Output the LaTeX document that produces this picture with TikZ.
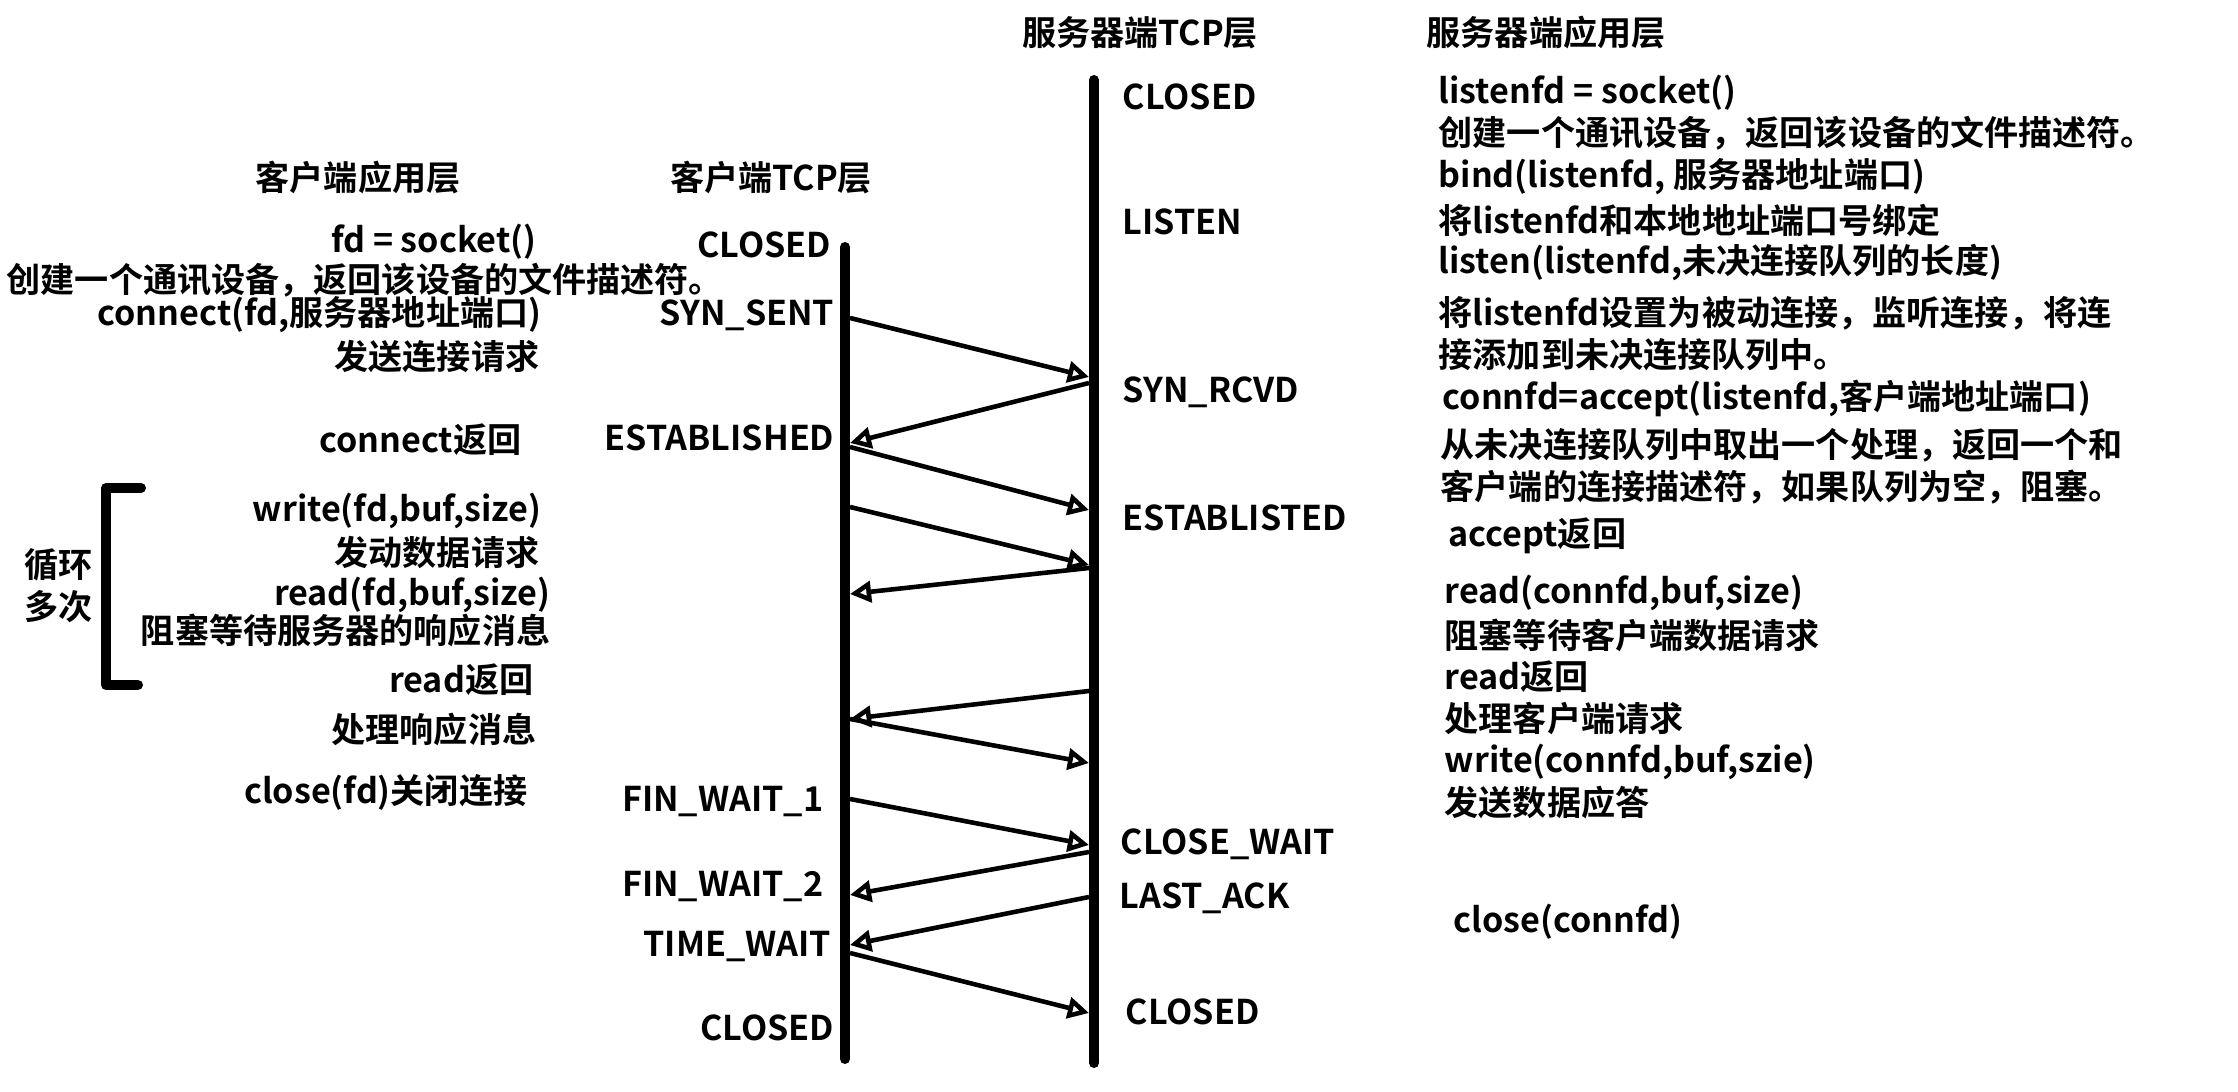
\documentclass[tikz,border=0pt]{standalone}
\usepackage{fontspec}
\setmainfont{Noto Sans CJK SC}[BoldFont={Noto Sans CJK SC Bold}]
\usepackage{tikz}
\usetikzlibrary{arrows.meta}

\begin{document}
\begin{tikzpicture}[
    x=0.01cm, y=-0.01cm,
    txt/.style={font=\bfseries\fontsize{9.7}{11}\selectfont, inner sep=0pt},
    lefttxt/.style={txt, anchor=east},
    righttxt/.style={txt, anchor=west},
    lifeline/.style={line width=0.1cm, line cap=round},
    bracket/.style={line width=0.1cm, line cap=round, line join=round},
    msg/.style={-{Triangle[open, length=6pt, width=6pt]}, line width=1.3pt}
]
    \useasboundingbox (0,0) rectangle (2238,1092);

    % column headers
    \node[txt] (capp) at (358,178) {客户端应用层};
    \node[txt] (ctcp) at (771,178) {客户端TCP层};
    \node[txt] (stcp) at (1140,33) {服务器端TCP层};
    \node[righttxt] (sapp) at (1426,33) {服务器端应用层};

    % the two TCP lifelines
    \coordinate (ctop) at (845,247);
    \coordinate (cbot) at (845,1059);
    \coordinate (stop) at (1094,80);
    \coordinate (sbot) at (1094,1063);
    \draw[lifeline] (ctop) -- (cbot);
    \draw[lifeline] (stop) -- (sbot);

    % client TCP states
    \node[lefttxt] (cclosed) at (832,245) {CLOSED};
    \node[lefttxt] (csynsent) at (835,315) {SYN\_SENT};
    \node[lefttxt] (cestab) at (835,438) {ESTABLISHED};
    \node[lefttxt] (cfin1) at (824,802) {FIN\_WAIT\_1};
    \node[lefttxt] (cfin2) at (824,887) {FIN\_WAIT\_2};
    \node[lefttxt] (ctimew) at (832,947) {TIME\_WAIT};
    \node[lefttxt] (cclosed2) at (835,1028) {CLOSED};

    % server TCP states
    \node[righttxt] (sclosed) at (1122,97) {CLOSED};
    \node[righttxt] (slisten) at (1122,222) {LISTEN};
    \node[righttxt] (ssynrcvd) at (1122,392) {SYN\_RCVD};
    \node[righttxt] (sestab) at (1122,518) {ESTABLISTED};
    \node[righttxt] (sclosew) at (1120,844) {CLOSE\_WAIT};
    \node[righttxt] (slastack) at (1119,898) {LAST\_ACK};
    \node[righttxt] (sclosed2) at (1125,1012) {CLOSED};

    % client application calls
    \node[lefttxt] (csocket) at (537,242) {fd = socket()};
    \node[righttxt] (ccreate) at (6,280) {创建一个通讯设备，返回该设备的文件描述符。};
    \node[lefttxt] (cconnect) at (542,315) {connect(fd,服务器地址端口)};
    \node[lefttxt] (csend) at (540,357) {发送连接请求};
    \node[lefttxt] (cconret) at (522,440) {connect返回};
    \node[lefttxt] (cwrite) at (542,511) {write(fd,buf,size)};
    \node[lefttxt] (creq) at (540,552) {发动数据请求};
    \node[lefttxt] (cread) at (551,595) {read(fd,buf,size)};
    \node[lefttxt] (cblock) at (551,630) {阻塞等待服务器的响应消息};
    \node[lefttxt] (creadret) at (534,680) {read返回};
    \node[lefttxt] (chandle) at (537,730) {处理响应消息};
    \node[lefttxt] (cclose) at (528,792) {close(fd)关闭连接};

    % loop bracket
    \draw[bracket] (141,488) -- (106,488) -- (106,685) -- (138,685);
    \node[txt] (loop1) at (59,565) {循环};
    \node[txt] (loop2) at (59,607) {多次};

    % server application calls
    \node[righttxt] (ssocket) at (1438,93) {listenfd = socket()};
    \node[righttxt] (screate) at (1438,133) {创建一个通讯设备，返回该设备的文件描述符。};
    \node[righttxt] (sbind) at (1438,177) {bind(listenfd, 服务器地址端口)};
    \node[righttxt] (sbindtxt) at (1438,220) {将listenfd和本地地址端口号绑定};
    \node[righttxt] (slistencall) at (1438,263) {listen(listenfd,未决连接队列的长度)};
    \node[righttxt] (slistentxt) at (1438,313) {将listenfd设置为被动连接，监听连接，将连};
    \node[righttxt] (slistentxtb) at (1438,355) {接添加到未决连接队列中。};
    \node[righttxt] (saccept) at (1442,398) {connfd=accept(listenfd,客户端地址端口)};
    \node[righttxt] (sacctxt) at (1440,445) {从未决连接队列中取出一个处理，返回一个和};
    \node[righttxt] (sacctxtb) at (1440,487) {客户端的连接描述符，如果队列为空，阻塞。};
    \node[righttxt] (saccret) at (1448,536) {accept返回};
    \node[righttxt] (sread) at (1444,593) {read(connfd,buf,size)};
    \node[righttxt] (sblock) at (1444,635) {阻塞等待客户端数据请求};
    \node[righttxt] (sreadret) at (1444,677) {read返回};
    \node[righttxt] (shandle) at (1444,718) {处理客户端请求};
    \node[righttxt] (swrite) at (1444,762) {write(connfd,buf,szie)};
    \node[righttxt] (sreply) at (1444,803) {发送数据应答};
    \node[righttxt] (sclose) at (1453,922) {close(connfd)};

    % segments client -> server
    \foreach \ya/\yb [count=\i] in {318/377, 447/510, 507/565, 719/763, 799/845, 953/1013} {
        \coordinate (cs\i a) at (850,\ya);
        \coordinate (cs\i b) at (1089,\yb);
        \draw[msg] (cs\i a) -- (cs\i b);
    }
    % segments server -> client
    \foreach \ya/\yb [count=\i] in {383/443, 568/594, 691/719, 852/895, 897/945} {
        \coordinate (sc\i a) at (1089,\ya);
        \coordinate (sc\i b) at (850,\yb);
        \draw[msg] (sc\i a) -- (sc\i b);
    }
\end{tikzpicture}
\end{document}
